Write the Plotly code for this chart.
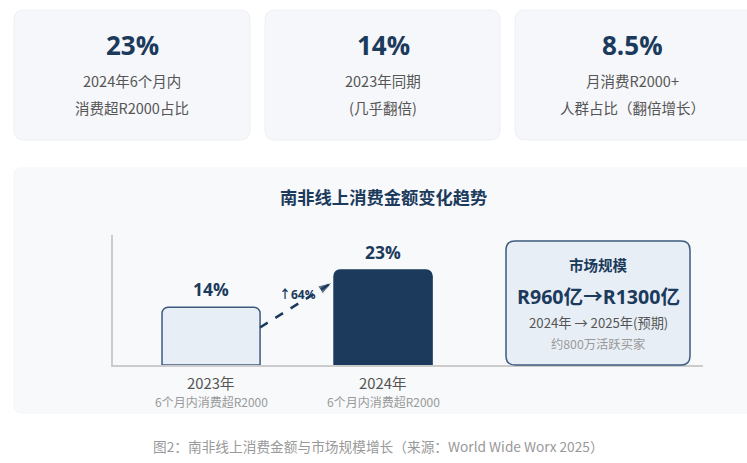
import plotly.graph_objects as go

W, H = 747, 463

# ---- data ----
card_values = ["23%", "14%", "8.5%"]
card_line1 = ["2024年6个月内", "2023年同期", "月消费R2000+"]
card_line2 = ["消费超R2000占比", "(几乎翻倍)", "人群占比（翻倍增长）"]

years = ["2023年", "2024年"]
year_sub = ["6个月内消费超R2000", "6个月内消费超R2000"]
shares = [14, 23]
share_labels = ["14%", "23%"]
growth_label = "↑64%"

chart_title = "南非线上消费金额变化趋势"
market_title = "市场规模"
market_value = "R960亿→R1300亿"
market_years = "2024年 → 2025年(预期)"
market_buyers = "约800万活跃买家"
caption = "图2：南非线上消费金额与市场规模增长（来源：World Wide Worx 2025）"

NAVY = "#1b3a5c"
FONT = "Noto Sans CJK SC, Open Sans, sans-serif"
NUMFONT = "Open Sans, Noto Sans CJK SC, sans-serif"


def px(x):
    return x / W


def py(y):
    return 1 - y / H


def rrect(x0, y0, x1, y1, r):
    X0, X1 = px(x0), px(x1)
    Y0, Y1 = py(y0), py(y1)
    rx, ry = r / W, r / H
    return (f"M{X0+rx},{Y0} L{X1-rx},{Y0} Q{X1},{Y0} {X1},{Y0-ry} "
            f"L{X1},{Y1+ry} Q{X1},{Y1} {X1-rx},{Y1} L{X0+rx},{Y1} "
            f"Q{X0},{Y1} {X0},{Y1+ry} L{X0},{Y0-ry} Q{X0},{Y0} {X0+rx},{Y0} Z")


def txt(x, y, text, size, color, family=FONT, xref="paper", yref="paper", **kw):
    d = dict(x=x, y=y, xref=xref, yref=yref, text=text, showarrow=False,
             xanchor="center", yanchor="middle",
             font=dict(size=size, color=color, family=family))
    d.update(kw)
    return d


shapes = []
annotations = []

# cards
card_x = [(14, 250), (265, 500), (515, 760)]
card_cx = [132, 383, 632]
for (x0, x1), cxp, v, l1, l2 in zip(card_x, card_cx, card_values, card_line1, card_line2):
    shapes.append(dict(type="path", xref="paper", yref="paper", layer="below",
                       path=rrect(x0, 10, x1, 140, 10),
                       fillcolor="#f5f7fa", line=dict(color="#edf0f4", width=1)))
    cx = px(cxp)
    annotations.append(txt(cx, py(45), f"<b>{v}</b>", 26, NAVY, NUMFONT))
    annotations.append(txt(cx, py(80), l1, 14.5, "#555555"))
    annotations.append(txt(cx, py(107), l2, 14.5, "#555555"))

# chart panel
shapes.append(dict(type="path", xref="paper", yref="paper", layer="below",
                   path=rrect(14, 168, 760, 413, 8),
                   fillcolor="#f7f9fb", line=dict(color="#f3f5f8", width=1)))

annotations.append(txt(px(383), py(197), f"<b>{chart_title}</b>", 17.3, NAVY))

# market box
shapes.append(dict(type="path", xref="paper", yref="paper", layer="above",
                   path=rrect(506, 241, 690, 365, 9),
                   fillcolor="#e8eef5", line=dict(color="#3d5a80", width=1.5)))
mx = px(598)
annotations += [
    txt(mx, py(264), f"<b>{market_title}</b>", 14.5, NAVY),
    txt(mx, py(296), f"<b>{market_value}</b>", 19.6, NAVY, NUMFONT),
    txt(mx, py(322), market_years, 13.2, "#555555"),
    txt(mx, py(344), market_buyers, 12.3, "#999999"),
]

# caption
annotations.append(txt(px(378), py(446), caption, 13.7, "#999999"))

# bars
bar_x = [0, 1]
bar_w = 0.57
fig = go.Figure()
fig.add_trace(go.Bar(
    x=bar_x, y=shares, width=bar_w,
    marker=dict(color=["#e8eef5", NAVY], cornerradius=6,
                line=dict(color=["#3d5a80", NAVY], width=1.5)),
    hoverinfo="skip"))

for xv, v, lab, yr, sub in zip(bar_x, shares, share_labels, years, year_sub):
    annotations.append(txt(xv, v, f"<b>{lab}</b>", 17.5, NAVY, NUMFONT, xref="x", yref="y",
                           yanchor="bottom", yshift=4))
    annotations.append(txt(xv, py(382), yr, 14.8, "#555555", xref="x"))
    annotations.append(txt(xv, py(401), sub, 12, "#999999", xref="x"))

# growth arrow
ax = [bar_x[0] + bar_w / 2, bar_x[1] - bar_w / 2 - 0.01]
ay = [shares[0] * 0.65, shares[1] * 0.87]
fig.add_trace(go.Scatter(x=ax, y=ay, mode="lines", line=dict(color=NAVY, width=2.5, dash="dash"),
                         hoverinfo="skip"))
fig.add_trace(go.Scatter(x=[ax[0], ax[1]], y=[ay[0], ay[1]], mode="markers",
                         marker=dict(symbol="arrow", size=[0, 15], color=NAVY, angleref="previous"),
                         hoverinfo="skip"))
annotations.append(txt((bar_x[0] + bar_x[1]) / 2, (ay[0] + ay[1]) / 2 + 2.6,
                       f"<b>{growth_label}</b>", 12, NAVY, NUMFONT, xref="x", yref="y"))

fig.update_layout(
    width=W, height=H, margin=dict(l=0, r=0, t=0, b=0),
    paper_bgcolor="white", plot_bgcolor="rgba(0,0,0,0)",
    showlegend=False, shapes=shapes, annotations=annotations,
    xaxis=dict(domain=[px(113), px(703)], range=[-0.57, 2.86], showgrid=False, zeroline=False,
               showticklabels=False, showline=True, linecolor="#cccccc", linewidth=1.5, fixedrange=True),
    yaxis=dict(domain=[py(365), py(235)], range=[0, 31.5], showgrid=False, zeroline=False,
               showticklabels=False, showline=True, linecolor="#cccccc", linewidth=1.5, fixedrange=True),
)

fig.write_html("out.html", config={"displayModeBar": False},
               post_script="document.body.style.margin='0';document.body.style.overflow='hidden';")
